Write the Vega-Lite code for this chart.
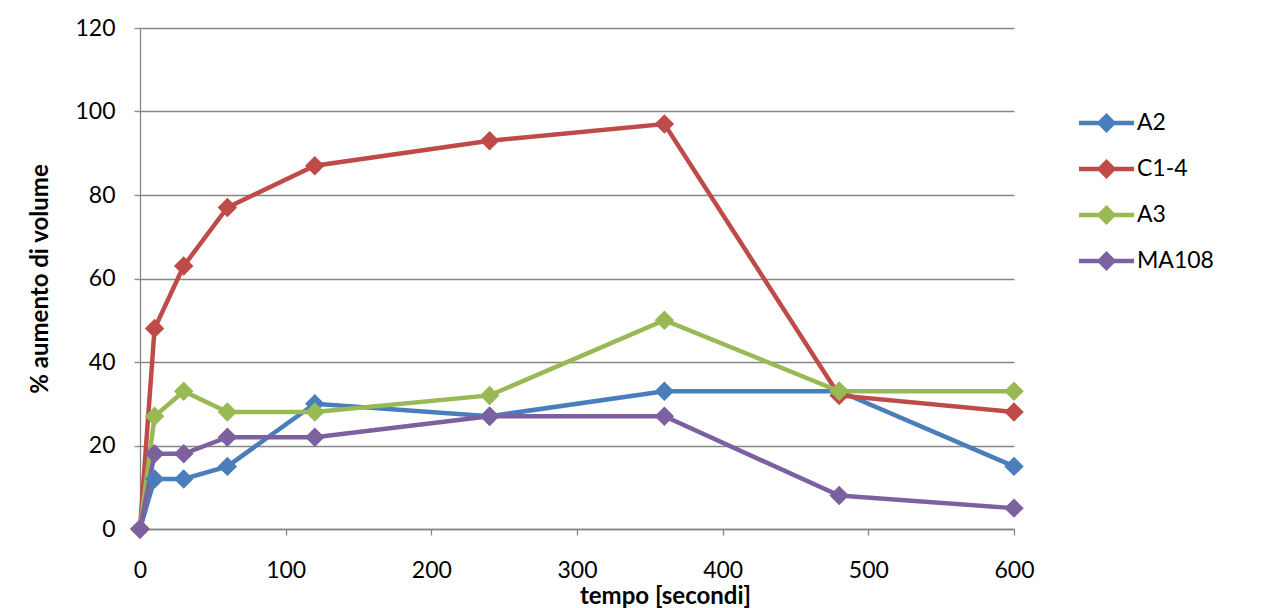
{
  "$schema": "https://vega.github.io/schema/vega-lite/v6.json",
  "width": 874,
  "height": 501,
  "autosize": "none",
  "padding": {"left": 140, "top": 28, "right": 249, "bottom": 79},
  "background": "white",
  "config": {
    "view": {"stroke": null},
    "font": "Lato",
    "axis": {"labelFont": "Lato", "titleFont": "Lato", "labelColor": "#000", "titleColor": "#000", "labelFontSize": 23, "titleFontSize": 24, "titleFontWeight": "bold", "domainColor": "#868686", "tickColor": "#868686", "gridColor": "#868686", "tickSize": 6, "domainWidth": 1.3, "tickWidth": 1.3, "gridWidth": 1.3, "labelFlush": false}
  },
  "data": {"values": [
    {"t": 0, "s": "A2", "v": 0}, {"t": 10, "s": "A2", "v": 12}, {"t": 30, "s": "A2", "v": 12}, {"t": 60, "s": "A2", "v": 15}, {"t": 120, "s": "A2", "v": 30}, {"t": 240, "s": "A2", "v": 27}, {"t": 360, "s": "A2", "v": 33}, {"t": 480, "s": "A2", "v": 33}, {"t": 600, "s": "A2", "v": 15},
    {"t": 0, "s": "C1-4", "v": 0}, {"t": 10, "s": "C1-4", "v": 48}, {"t": 30, "s": "C1-4", "v": 63}, {"t": 60, "s": "C1-4", "v": 77}, {"t": 120, "s": "C1-4", "v": 87}, {"t": 240, "s": "C1-4", "v": 93}, {"t": 360, "s": "C1-4", "v": 97}, {"t": 480, "s": "C1-4", "v": 32}, {"t": 600, "s": "C1-4", "v": 28},
    {"t": 0, "s": "A3", "v": 0}, {"t": 10, "s": "A3", "v": 27}, {"t": 30, "s": "A3", "v": 33}, {"t": 60, "s": "A3", "v": 28}, {"t": 120, "s": "A3", "v": 28}, {"t": 240, "s": "A3", "v": 32}, {"t": 360, "s": "A3", "v": 50}, {"t": 480, "s": "A3", "v": 33}, {"t": 600, "s": "A3", "v": 33},
    {"t": 0, "s": "MA108", "v": 0}, {"t": 10, "s": "MA108", "v": 18}, {"t": 30, "s": "MA108", "v": 18}, {"t": 60, "s": "MA108", "v": 22}, {"t": 120, "s": "MA108", "v": 22}, {"t": 240, "s": "MA108", "v": 27}, {"t": 360, "s": "MA108", "v": 27}, {"t": 480, "s": "MA108", "v": 8}, {"t": 600, "s": "MA108", "v": 5}
  ]},
  "encoding": {
    "x": {"field": "t", "type": "quantitative", "scale": {"domain": [0, 600], "nice": false, "zero": true},
      "axis": {"title": "tempo [secondi]", "values": [0, 100, 200, 300, 400, 500, 600], "grid": false, "labelPadding": 24, "titleX": 525, "titleY": 74, "titleBaseline": "alphabetic", "titleAnchor": null}},
    "y": {"field": "v", "type": "quantitative", "scale": {"domain": [0, 120], "nice": false},
      "axis": {"title": "% aumento di volume", "values": [0, 20, 40, 60, 80, 100, 120], "grid": true, "labelPadding": 19, "titleX": -100, "titleY": 250.5, "titleAngle": -90, "titleAlign": "center", "titleBaseline": "middle"}},
    "color": {"field": "s", "type": "nominal", "sort": ["A2", "C1-4", "A3", "MA108"],
      "scale": {"domain": ["A2", "C1-4", "A3", "MA108"], "range": ["#4A7EBB", "#BE4B48", "#98B954", "#7D60A0"]},
      "legend": {"title": null, "orient": "none", "legendX": 939, "legendY": 72, "labelFont": "Lato", "labelFontSize": 23, "labelColor": "#000",
        "symbolType": "M-1,-0.08L1,-0.08L1,0.08L-1,0.08Z M-0.36,0L0,-0.36L0.36,0L0,0.36Z", "symbolSize": 3025, "symbolStrokeWidth": 0, "clipHeight": 46, "rowPadding": 0, "labelOffset": 3,
        "encode": {"symbols": {"update": {"fill": {"scale": "color", "field": "value"}, "strokeWidth": {"value": 0}, "opacity": {"value": 1}}}}}}
  },
  "layer": [
    {"mark": {"type": "line", "strokeWidth": 4.5}},
    {"mark": {"type": "point", "shape": "diamond", "filled": true, "size": 380, "opacity": 1}}
  ]
}
